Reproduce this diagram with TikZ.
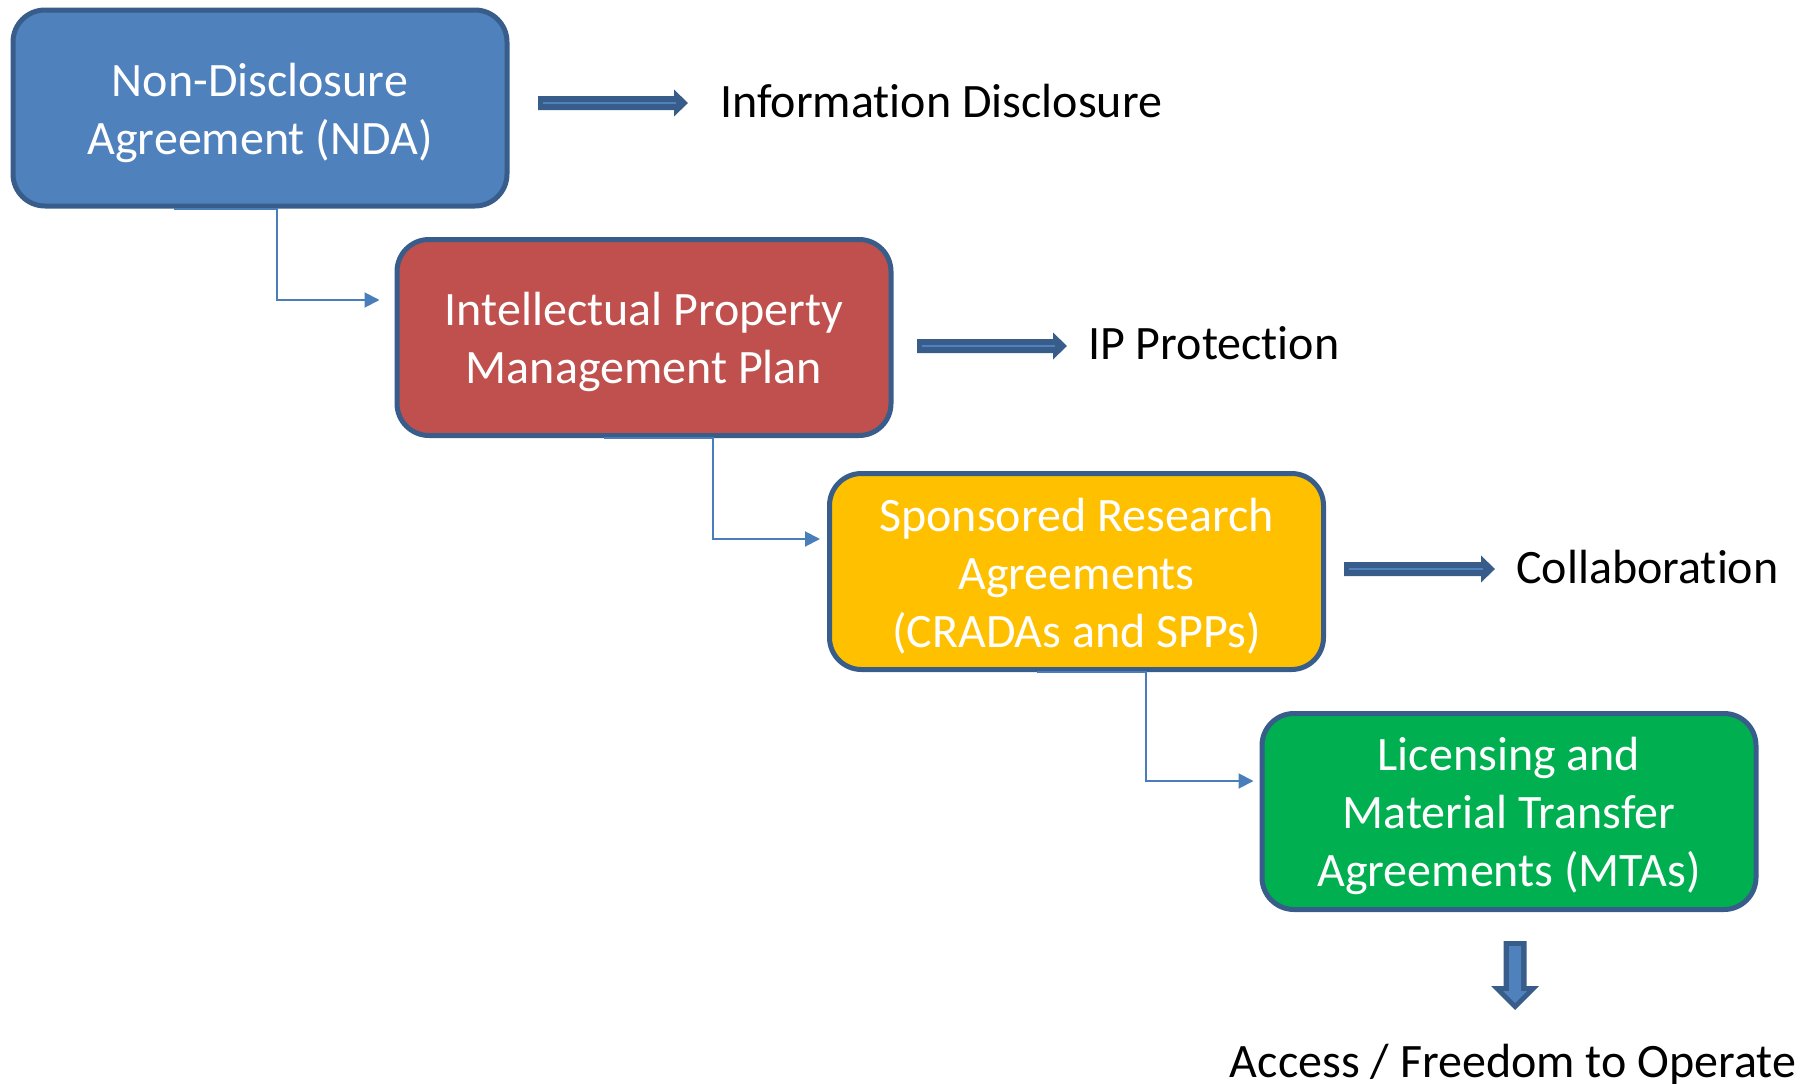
\documentclass[tikz,border=0pt]{standalone}
\usepackage{fontspec}
\setmainfont{Carlito}[Ligatures=NoCommon]
\usetikzlibrary{arrows.meta,calc}
\definecolor{boxline}{HTML}{385D8A}
\definecolor{bluefill}{HTML}{4F81BD}
\definecolor{redfill}{HTML}{C0504D}
\definecolor{yellowfill}{HTML}{FFC000}
\definecolor{greenfill}{HTML}{00B050}
\definecolor{conncol}{HTML}{4A7EBB}
\newcommand{\rightblock}[3]{%
  \fill[boxline] (#1,{#3-7}) -- ({#2-14},{#3-7}) -- ({#2-14},{#3-13.5}) -- (#2,#3) -- ({#2-14},{#3+13.5}) -- ({#2-14},{#3+7}) -- (#1,{#3+7}) -- cycle;
  \draw[bluefill, line width=2.5pt] ({#1+5},#3) -- ({#2-12},#3);}
\begin{document}
\begin{tikzpicture}[x=1pt,y=-1pt,
  box/.style={draw=boxline, line width=5pt, rounded corners=32pt,
    minimum width=494pt, minimum height=196pt, inner sep=0pt},
  boxtext/.style={inner sep=0pt, align=center, text=white,
    font=\fontsize{48}{58}\selectfont},
  lbl/.style={inner sep=0pt, font=\fontsize{48}{58}\selectfont, anchor=base west},
  conn/.style={draw=conncol, line width=2pt, -{Triangle[length=15pt,width=15pt]}}]
\useasboundingbox (0,0) rectangle (1815,1084);

\node[box, fill=bluefill] (nda) at (260,108) {};
\node[box, fill=redfill] (ip) at (644,337.5) {};
\node[box, fill=yellowfill] (sra) at (1076.5,571.5) {};
\node[box, fill=greenfill] (lic) at (1509,811.5) {};
\node[boxtext] (ndat) at ([yshift=-4.5pt]nda.center) {Non-Disclosure\\Agreement (NDA)};
\node[boxtext] (ipt) at ([yshift=-4.5pt]ip.center) {Intellectual Property\\Management Plan};
\node[boxtext] (srat) at ([yshift=-4.5pt]sra.center) {Sponsored Research\\Agreements\\(CRADAs and SPPs)};
\node[boxtext] (lict) at ([yshift=-4pt]lic.center) {Licensing and\\Material Transfer\\Agreements (MTAs)};

\node[lbl] (l1) at (720,117) {Information Disclosure};
\node[lbl] (l2) at (1088,359) {IP Protection};
\node[lbl] (l3) at (1516,583) {Collaboration};
\node[inner sep=0pt, font=\fontsize{48}{58}\selectfont, anchor=base] (l4) at (1513,1077) {Access / Freedom to Operate};

\draw[conn] ($(nda.south)+(-86,0)$) -- ++(103,0) |- ($(ip.west)+(-15,-37.5)$);
\draw[conn] ($(ip.south)+(-40,0)$) -- ++(109,0) |- ($(sra.west)+(-7,-32.5)$);
\draw[conn] ($(sra.south)+(-39.5,0)$) -- ++(108.5,0) |- ($(lic.west)+(-6,-30.5)$);

\rightblock{538}{688}{103}
\rightblock{917}{1067}{346}
\rightblock{1344}{1495}{569}

\fill[boxline] (1503.5,941) -- (1526.5,941) -- (1526.5,986) -- (1539,986) -- (1515,1010) -- (1491,986) -- (1503.5,986) -- cycle;
\fill[bluefill] (1509,946) -- (1521,946) -- (1521,991) -- (1527,991) -- (1515,1003) -- (1503,991) -- (1509,991) -- cycle;
\end{tikzpicture}
\end{document}
